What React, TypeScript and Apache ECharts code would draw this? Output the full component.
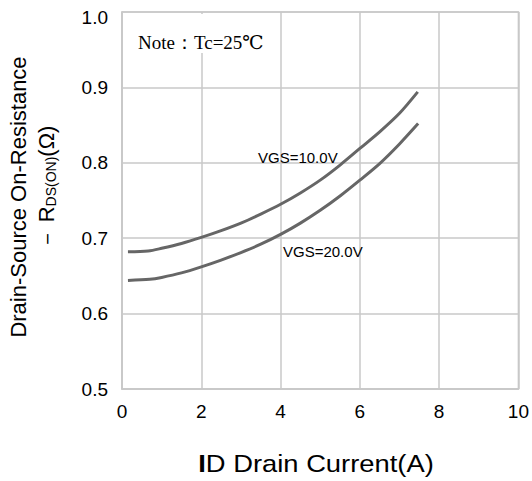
import React, { useEffect, useRef } from "react";
import * as echarts from "echarts";

const vgs10X = [0.15, 0.66, 1, 1.5, 2, 2.5, 3, 3.5, 4, 4.5, 5, 5.5, 6, 6.5, 7, 7.46];
const vgs10Y = [0.682, 0.683, 0.6866, 0.693, 0.701, 0.710, 0.720, 0.732, 0.745, 0.760, 0.777, 0.797, 0.819, 0.841, 0.8656, 0.894];
const vgs20X = [0.15, 0.7, 1, 1.5, 2, 2.5, 3, 3.5, 4, 4.5, 5, 5.5, 6, 6.5, 7, 7.47];
const vgs20Y = [0.644, 0.6455, 0.648, 0.654, 0.662, 0.671, 0.681, 0.692, 0.705, 0.720, 0.737, 0.756, 0.777, 0.799, 0.825, 0.852];
const seriesNames = ["VGS=10.0V", "VGS=20.0V"];
const noteText = "Note：Tc=25℃";

export default function App() {
  const ref = useRef<HTMLDivElement>(null);
  useEffect(() => {
    if (!ref.current) return;
    const chart = echarts.init(ref.current, null, { renderer: "svg" });
    const font = "Liberation Sans, Arial, sans-serif";
    chart.setOption({
      animation: false,
      backgroundColor: "#fff",
      grid: {
        left: 122,
        right: 12,
        top: 12,
        bottom: 92,
        show: true,
        borderColor: "#c8c8c8",
        borderWidth: 1.5,
      },
      xAxis: {
        type: "value",
        min: 0,
        max: 10,
        interval: 2,
        axisLine: { show: true, lineStyle: { color: "#c8c8c8", width: 1.5 } },
        axisTick: { show: false },
        splitLine: { show: true, lineStyle: { color: "#c8c8c8", width: 1.5 } },
        axisLabel: { color: "#000", fontSize: 19, fontFamily: font, margin: 13 },
      },
      yAxis: {
        type: "value",
        min: 0.5,
        max: 1.0,
        interval: 0.1,
        axisLine: { show: true, lineStyle: { color: "#c8c8c8", width: 1.5 } },
        axisTick: { show: false },
        splitLine: { show: true, lineStyle: { color: "#c8c8c8", width: 1.5 } },
        axisLabel: {
          color: "#000",
          fontSize: 19,
          fontFamily: font,
          margin: 14,
          formatter: (v: number) => (v >= 0.999 ? "{t|" + v.toFixed(1) + "}" : v.toFixed(1)),
          rich: {
            t: { fontSize: 19, fontFamily: font, color: "#000", padding: [10, 0, 0, 0] },
          },
        },
      },
      series: [
        {
          name: seriesNames[0],
          type: "line",
          data: vgs10X.map((x, i) => [x, vgs10Y[i]]),
          showSymbol: false,
          smooth: 0.3,
          lineStyle: { color: "#666", width: 3 },
          z: 5,
        },
        {
          name: seriesNames[1],
          type: "line",
          data: vgs20X.map((x, i) => [x, vgs20Y[i]]),
          showSymbol: false,
          smooth: 0.3,
          lineStyle: { color: "#666", width: 3 },
          z: 5,
        },
      ],
      graphic: [
        {
          type: "rect",
          shape: { x: 124, y: 14, width: 150, height: 39 },
          style: { fill: "#fff" },
          z: 3,
        },
        {
          type: "text",
          x: 138,
          y: 42,
          style: {
            text: noteText,
            fill: "#000",
            font: "19px 'Liberation Serif', 'DejaVu Serif', serif",
            verticalAlign: "middle",
            align: "left",
          },
          z: 4,
        },
        {
          type: "text",
          x: 258,
          y: 157,
          style: {
            text: seriesNames[0],
            fill: "#000",
            font: "15px " + font,
            verticalAlign: "middle",
            align: "left",
          },
          z: 6,
        },
        {
          type: "text",
          x: 283,
          y: 251,
          style: {
            text: seriesNames[1],
            fill: "#000",
            font: "15px " + font,
            verticalAlign: "middle",
            align: "left",
          },
          z: 6,
        },
        {
          type: "text",
          x: 316,
          y: 464,
          scaleX: 1.14,
          style: {
            text: "{b|I}D Drain Current(A)",
            fill: "#000",
            font: "24px " + font,
            align: "center",
            verticalAlign: "middle",
            rich: {
              b: { fontSize: 24, fontWeight: "bold", fontFamily: font },
            },
          },
        },
        {
          type: "text",
          x: 18,
          y: 197,
          rotation: Math.PI / 2,
          style: {
            text: "Drain-Source On-Resistance",
            fill: "#000",
            font: "22px " + font,
            align: "center",
            verticalAlign: "middle",
          },
        },
        {
          type: "text",
          x: 46,
          y: 188,
          rotation: Math.PI / 2,
          style: {
            text: "{a|－ R}{s|DS(ON)}{a|(Ω)}",
            fill: "#000",
            font: "22px " + font,
            align: "center",
            verticalAlign: "middle",
            rich: {
              a: { fontSize: 22, fontFamily: font, fill: "#000" },
              s: { fontSize: 14, fontFamily: font, fill: "#000", padding: [10, 0, 0, 0] },
            },
          },
        },
      ],
    });
    return () => chart.dispose();
  }, []);
  return <div ref={ref} style={{ width: 532, height: 481, position: "absolute", left: 0, top: 0 }} />;
}
